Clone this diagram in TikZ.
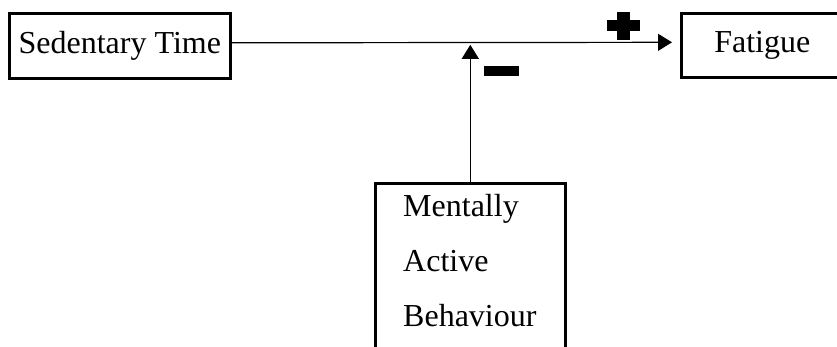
\documentclass[tikz,border=0pt]{standalone}
\usepackage{fontspec}
\setmainfont{Liberation Serif}
\usetikzlibrary{arrows.meta}

\begin{document}
\begin{tikzpicture}[
      x=1pt, y=-1pt,
      box/.style={rectangle, draw=black, line width=2.6pt, inner sep=0pt},
      pointer/.style={line width=1.2pt, -{Triangle[length=14pt,width=17pt]}, draw=black},
      bar/.style={rectangle, fill=black, draw=none, inner sep=0pt},
      every node/.style={font=\fontsize{32}{54.5}\selectfont}
      ]
      \useasboundingbox (0,0) rectangle (837,347);
      \clip (0,0) rectangle (837,347);

      % the two boxes on the top row, the right one runs past the edge
      \node[box, anchor=north west, minimum width=221pt, minimum height=65pt] (sedentary) at (8,12) {Sedentary Time};
      \node[box, anchor=north west, minimum width=162pt, minimum height=64pt] (fatigue) at (680,12) {Fatigue};

      % the box below is cut off by the bottom edge
      \node[box, anchor=north west, minimum width=190pt, minimum height=200pt] (mental) at (374,182) {};
      \node[anchor=base west, align=left, text width=140pt, inner sep=0pt] (mentaltext) at (403,217)
        {Mentally\\Active\\Behaviour};

      % pointers
      \coordinate (join) at ([yshift=3pt]sedentary.east -| mental.north);
      \draw[pointer, shorten >=8pt] ([yshift=3pt]sedentary.east) -- ([yshift=3pt]fatigue.west);
      \draw[pointer, shorten >=2pt] (mental.north) -- (join);

      % signs
      \node[bar, minimum width=33pt, minimum height=11pt] (plush) at (623.5,25.5) {};
      \node[bar, minimum width=13pt, minimum height=28pt] (plusv) at (623.5,26) {};
      \node[bar, minimum width=35pt, minimum height=10pt] (minus) at (501.5,71) {};
    \end{tikzpicture}
\end{document}
